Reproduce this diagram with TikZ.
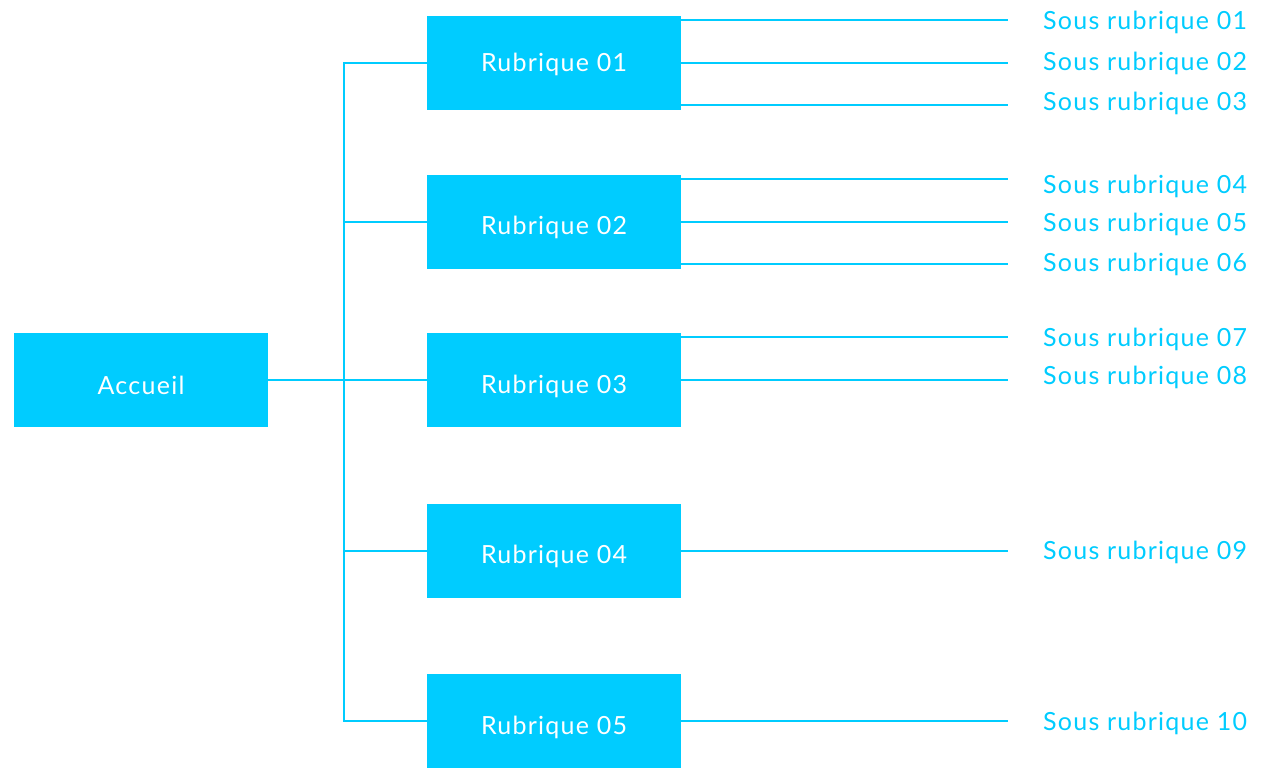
\documentclass[tikz,border=0pt]{standalone}
\usepackage{fontspec}
\setmainfont{Lato}[LetterSpace=5]
\definecolor{sky}{HTML}{00CCFF}
% lower a caption inside its box without changing the box size
\newcommand{\lowered}[2]{\raisebox{-#1}[\height][\depth]{#2}}
\begin{document}
\begin{tikzpicture}[x=1pt,y=-1pt,
  block/.style={fill=sky, draw=none, text=white, minimum width=254pt, minimum height=94pt,
    inner sep=0pt, font=\fontsize{25}{28}\selectfont},
  leaf/.style={anchor=west, text=sky, inner sep=0pt, font=\fontsize{25}{28}\selectfont},
  link/.style={draw=sky, line width=2.5pt}]
\useasboundingbox (0,0) rectangle (1261,768);

% main blocks
\node[block] (acc) at (141,380) {\lowered{5pt}{Accueil}};
\node[block] (r1) at (554,63) {\lowered{1pt}{Rubrique 01}};
\node[block] (r2) at (554,222) {\lowered{5pt}{Rubrique 02}};
\node[block] (r3) at (554,380) {\lowered{6pt}{Rubrique 03}};
\node[block] (r4) at (554,551) {\lowered{5pt}{Rubrique 04}};
\node[block] (r5) at (554,721) {\lowered{6pt}{Rubrique 05}};

% trunk linking the home block to every section
\coordinate (t) at (344,0);
\draw[link] (acc.east) -- (r3.west);
\draw[link] (r1.west) -- (t |- r1.west) -- (t |- r5.west) -- (r5.west);
\draw[link] (t |- r2.west) -- (r2.west);
\draw[link] (t |- r4.west) -- (r4.west);

% end points of the sub-section lines
\coordinate (e1) at (1008,20);
\coordinate (e2) at (1008,63);
\coordinate (e3) at (1008,105);
\coordinate (e4) at (1008,179);
\coordinate (e5) at (1008,222);
\coordinate (e6) at (1008,264);
\coordinate (e7) at (1008,337);
\coordinate (e8) at (1008,380);
\coordinate (e9) at (1008,551);
\coordinate (e10) at (1008,721);

\draw[link] (r1.east |- e1) -- (e1);
\draw[link] (r1.east |- e2) -- (e2);
\draw[link] (r1.east |- e3) -- (e3);
\draw[link] (r2.east |- e4) -- (e4);
\draw[link] (r2.east |- e5) -- (e5);
\draw[link] (r2.east |- e6) -- (e6);
\draw[link] (r3.east |- e7) -- (e7);
\draw[link] (r3.east |- e8) -- (e8);
\draw[link] (r4.east |- e9) -- (e9);
\draw[link] (r5.east |- e10) -- (e10);

% sub-section labels
\node[leaf] (s1) at (1043,22) {Sous rubrique 01};
\node[leaf] (s2) at (1043,63) {Sous rubrique 02};
\node[leaf] (s3) at (1043,103) {Sous rubrique 03};
\node[leaf] (s4) at (1043,186) {Sous rubrique 04};
\node[leaf] (s5) at (1043,224) {Sous rubrique 05};
\node[leaf] (s6) at (1043,264) {Sous rubrique 06};
\node[leaf] (s7) at (1043,339) {Sous rubrique 07};
\node[leaf] (s8) at (1043,377) {Sous rubrique 08};
\node[leaf] (s9) at (1043,552) {Sous rubrique 09};
\node[leaf] (s10) at (1043,723) {Sous rubrique 10};
\end{tikzpicture}
\end{document}
